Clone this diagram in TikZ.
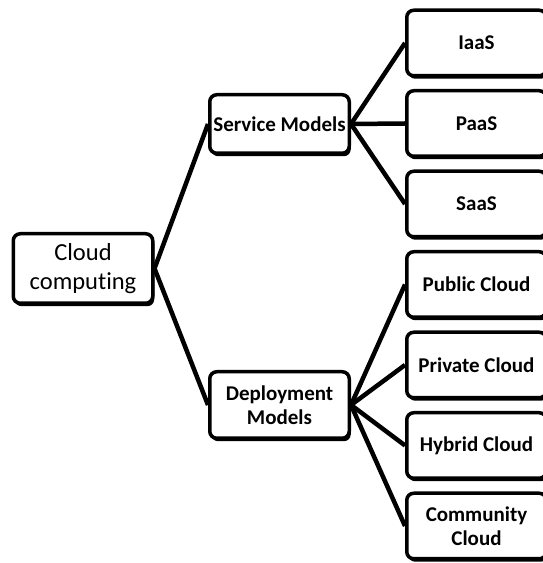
\documentclass[tikz,border=0pt]{standalone}
\usepackage{fontspec}
\setmainfont{Carlito}[Ligatures=NoCommon, RawFeature=-liga]
\usetikzlibrary{shadows}

\tikzset{
  box/.style={draw, rectangle, rounded corners=7pt, line width=3.5pt, fill=white,
    minimum width=139.5pt, inner sep=2pt, align=center,
    font=\fontsize{21}{24}\selectfont\bfseries,
    drop shadow={shadow xshift=1.5pt, shadow yshift=-3pt, fill=black, opacity=1}},
  leaf/.style={box, minimum height=65.5pt},
  link/.style={line width=4.5pt}
}

\begin{document}
\begin{tikzpicture}[x=1pt, y=1pt, node distance=80.5pt]
  \useasboundingbox (0,0) rectangle (543,563);
  \clip (0,0) rectangle (543,563);

  % root and the two groups
  \node (cloud) [box, minimum height=69.5pt, font=\fontsize{24.5}{29.5}\selectfont] at (83,294.5) {Cloud\\computing};
  \node (service) [box, minimum height=58.5pt] at (279.5,439) {Service Models};
  \node (deploy) [box, minimum height=66.5pt] at (279.5,158) {Deployment\\Models};

  % leaves, one column
  \node (iaas) [leaf] at (476.5,520) {IaaS};
  \node (paas) [leaf, below of=iaas] {PaaS};
  \node (saas) [leaf, below of=paas] {SaaS};
  \node (public) [leaf, below of=saas] {Public Cloud};
  \node (private) [leaf, below of=public] {Private Cloud};
  \node (hybrid) [leaf, below of=private] {Hybrid Cloud};
  \node (community) [leaf, below of=hybrid] {Community\\Cloud};

  \draw[link] (cloud.east) -- (service.west);
  \draw[link] (cloud.east) -- (deploy.west);
  \foreach \leaf in {iaas,paas,saas}
    \draw[link] (service.east) -- (\leaf.west);
  \foreach \leaf in {public,private,hybrid,community}
    \draw[link] (deploy.east) -- (\leaf.west);
\end{tikzpicture}
\end{document}
